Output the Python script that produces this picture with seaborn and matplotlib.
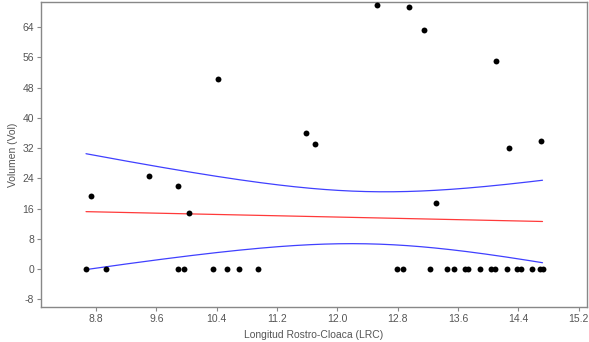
import numpy as np
import pandas as pd
import matplotlib
matplotlib.use("Agg")
import matplotlib.pyplot as plt
import seaborn as sns

# Data
lrc_zero = [8.667, 8.93, 9.89, 9.97, 10.35, 10.54, 10.70, 10.95,
            12.79, 12.87, 13.23, 13.46, 13.55, 13.69, 13.73, 13.89,
            14.04, 14.09, 14.25, 14.38, 14.44, 14.58, 14.69, 14.72]
lrc_pos = [8.73, 9.50, 9.89, 10.03, 10.42, 11.59, 11.70, 12.52,
           12.95, 13.15, 13.31, 14.10, 14.27, 14.70]
vol_pos = [19.4, 24.7, 22.0, 14.8, 50.2, 36.1, 33.2, 69.8,
           69.4, 63.1, 17.5, 55.1, 31.9, 33.9]

# Fitted line: x at ends and fitted values
fit_x_ends = [8.667, 14.72]
fit_y_ends = [15.2, 12.6]
# 95% confidence band: half-widths read at the left end, the narrowest point and the right end
band_x = [8.667, 12.41, 14.72]
band_half = [15.3, 6.9, 10.9]

x_ticks = [8.8, 9.6, 10.4, 11.2, 12.0, 12.8, 13.6, 14.4, 15.2]
y_ticks = [-8, 0, 8, 16, 24, 32, 40, 48, 56, 64]

x = np.array(lrc_zero + lrc_pos)
y = np.array([0.0] * len(lrc_zero) + vol_pos)
df = pd.DataFrame({"LRC": x, "Vol": y})

# Rebuild the regression line and its hyperbolic confidence band
slope = (fit_y_ends[1] - fit_y_ends[0]) / (fit_x_ends[1] - fit_x_ends[0])
x0 = band_x[1]
a = band_half[1] ** 2
b = ((band_half[0] ** 2 - a) / (band_x[0] - x0) ** 2 +
     (band_half[2] ** 2 - a) / (band_x[2] - x0) ** 2) / 2
xg = np.linspace(fit_x_ends[0], fit_x_ends[1], 200)
yg = fit_y_ends[0] + slope * (xg - fit_x_ends[0])
hw = np.sqrt(a + b * (xg - x0) ** 2)
fit = pd.DataFrame({"LRC": xg, "fit": yg, "lo": yg - hw, "hi": yg + hw})

sns.set_style("white")
plt.rcParams["font.family"] = ["Liberation Sans", "DejaVu Sans"]

fig = plt.figure(figsize=(5.89, 3.42), dpi=100)
ax = fig.add_axes([0.0696, 0.1023, 0.9270, 0.8919])

sns.lineplot(data=fit, x="LRC", y="hi", color="#4040ff", lw=0.9, ax=ax)
sns.lineplot(data=fit, x="LRC", y="lo", color="#4040ff", lw=0.9, ax=ax)
sns.lineplot(data=fit, x="LRC", y="fit", color="#ff3a3a", lw=0.9, ax=ax)
sns.scatterplot(data=df, x="LRC", y="Vol", color="black", s=18, linewidth=0,
                ax=ax, zorder=5, clip_on=False)

ax.set_xlim(8.07, 15.31)
ax.set_ylim(-10.0, 70.6)
ax.set_xticks(x_ticks)
ax.set_xticklabels([f"{v:.1f}" for v in x_ticks])
ax.set_yticks(y_ticks)
ax.set_yticklabels([str(v) for v in y_ticks])

grey = "#555555"
for sp in ax.spines.values():
    sp.set_color("#888888")
    sp.set_linewidth(1.0)
ax.tick_params(axis="both", which="major", direction="out", length=3,
               width=0.8, color="#888888", labelcolor=grey, labelsize=7.5,
               bottom=True, left=True, pad=2)
ax.set_xlabel("Longitud Rostro-Cloaca (LRC)", fontsize=7.5, color=grey, labelpad=4)
ax.set_ylabel("Volumen (Vol)", fontsize=7.5, color=grey, labelpad=3)

fig.savefig("out.png", dpi=100)
